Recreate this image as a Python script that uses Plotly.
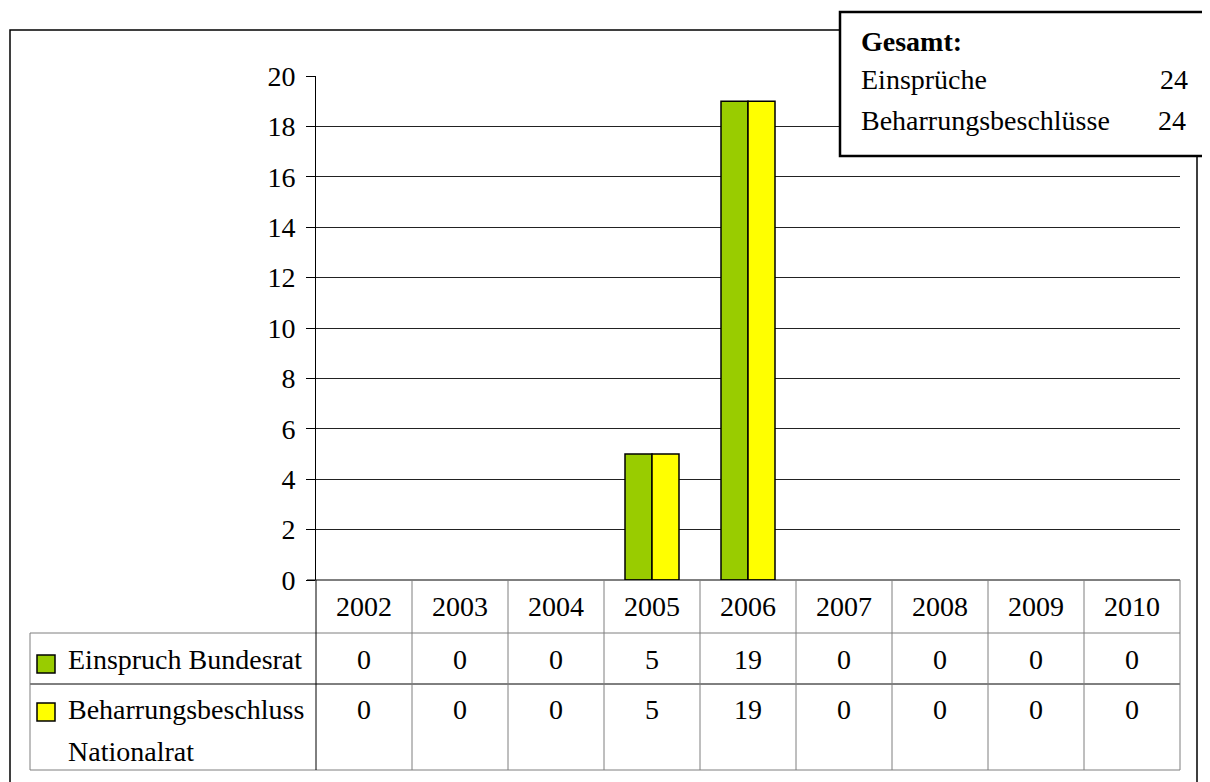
import plotly.graph_objects as go

years = ["2002", "2003", "2004", "2005", "2006", "2007", "2008", "2009", "2010"]
einspruch = [0, 0, 0, 5, 19, 0, 0, 0, 0]
beharrung = [0, 0, 0, 5, 19, 0, 0, 0, 0]
totals_labels = ["Einsprüche", "Beharrungsbeschlüsse"]
totals_values = [24, 24]
colors = ["#99CC00", "#FFFF00"]

W, H = 1210, 782
OX, OY = 8, 8  # default page body margin
L, R, T, B = 316, 1180, 76, 580
FONT = "Liberation Serif"
FS = 28

def px(x):
    return (x - L) / (R - L)

def py(y):
    return (B - y) / (B - T)

def nz(vals):
    return [v if v else None for v in vals]

fig = go.Figure()
fig.add_trace(go.Bar(x=years, y=nz(einspruch), name="Einspruch Bundesrat",
                     marker=dict(color=colors[0], line=dict(color="black", width=1.5))))
fig.add_trace(go.Bar(x=years, y=nz(beharrung), name="Beharrungsbeschluss Nationalrat",
                     marker=dict(color=colors[1], line=dict(color="black", width=1.5))))

shapes = []
ann = []
line_gray = "#7f7f7f"

# outer border
shapes.append(dict(type="rect", xref="paper", yref="paper",
                   x0=px(10), x1=px(1197), y0=py(800), y1=py(30),
                   line=dict(color="black", width=1.5), fillcolor="rgba(0,0,0,0)", layer="below"))

def hline(y, x0, x1, color=line_gray, w=1):
    shapes.append(dict(type="line", xref="paper", yref="paper", x0=px(x0), x1=px(x1),
                       y0=py(y), y1=py(y), line=dict(color=color, width=w)))

def vline(x, y0, y1, color=line_gray, w=1):
    shapes.append(dict(type="line", xref="paper", yref="paper", x0=px(x), x1=px(x),
                       y0=py(y0), y1=py(y1), line=dict(color=color, width=w)))

n = len(years)
colw = (R - L) / n
hline(580, 307, R, "black", 1)
hline(633, 30, R)
hline(684, 30, R, "black", 1)
hline(770, 30, R)
vline(30, 633, 770)
vline(L, 580, 770, "black", 1)
for k in range(1, n + 1):
    vline(L + k * colw, 580, 770)

for i, yr in enumerate(years):
    cx = px(L + (i + 0.5) * colw)
    ann.append(dict(x=cx, y=py(606), text=yr))
    ann.append(dict(x=cx, y=py(659), text=str(einspruch[i])))
    ann.append(dict(x=cx, y=py(709), text=str(beharrung[i])))

for (y0, y1), c in zip([(655, 673), (703, 721)], colors):
    shapes.append(dict(type="rect", xref="paper", yref="paper", x0=px(37), x1=px(55),
                       y0=py(y1), y1=py(y0), fillcolor=c, line=dict(color="black", width=1.5)))
ann.append(dict(x=px(66), y=py(659), text="Einspruch Bundesrat", xanchor="left"))
ann.append(dict(x=px(66), y=py(709), text="Beharrungsbeschluss", xanchor="left"))
ann.append(dict(x=px(66), y=py(751), text="Nationalrat", xanchor="left"))

shapes.append(dict(type="rect", xref="paper", yref="paper", x0=px(840), x1=px(1225),
                   y0=py(156), y1=py(12), fillcolor="white", line=dict(color="black", width=2.5)))
ann.append(dict(x=px(859), y=py(41), text="<b>Gesamt:</b>", xanchor="left"))
ann.append(dict(x=px(859), y=py(80), text=totals_labels[0], xanchor="left"))
ann.append(dict(x=px(1190), y=py(80), text=str(totals_values[0]), xanchor="right"))
ann.append(dict(x=px(859), y=py(120), text=totals_labels[1], xanchor="left"))
ann.append(dict(x=px(1188), y=py(120), text=str(totals_values[1]), xanchor="right"))

for a in ann:
    a.setdefault("xanchor", "center")
    a.update(xref="paper", yref="paper", yanchor="middle", showarrow=False,
             font=dict(family=FONT, size=FS, color="black"))

fig.update_layout(
    width=W - OX, height=H - OY,
    margin=dict(l=L - OX, r=W - R, t=T - OY, b=H - B, pad=0),
    paper_bgcolor="white", plot_bgcolor="white",
    barmode="group", bargap=0.4375, bargroupgap=0,
    showlegend=False,
    font=dict(family=FONT, size=FS, color="black"),
    shapes=shapes, annotations=ann,
    xaxis=dict(range=[-0.5, n - 0.5], showticklabels=False, showgrid=False,
               showline=False, ticks="", zeroline=False, fixedrange=True),
    yaxis=dict(range=[0, 20], dtick=2, tick0=0, showgrid=True, gridcolor="#222222", gridwidth=1,
               showline=True, linecolor="black", linewidth=1, ticks="outside", ticklen=9,
               tickcolor="black", zeroline=False, ticklabelstandoff=5,
               tickfont=dict(family=FONT, size=FS, color="black")),
)

fig.write_html("out.html")
